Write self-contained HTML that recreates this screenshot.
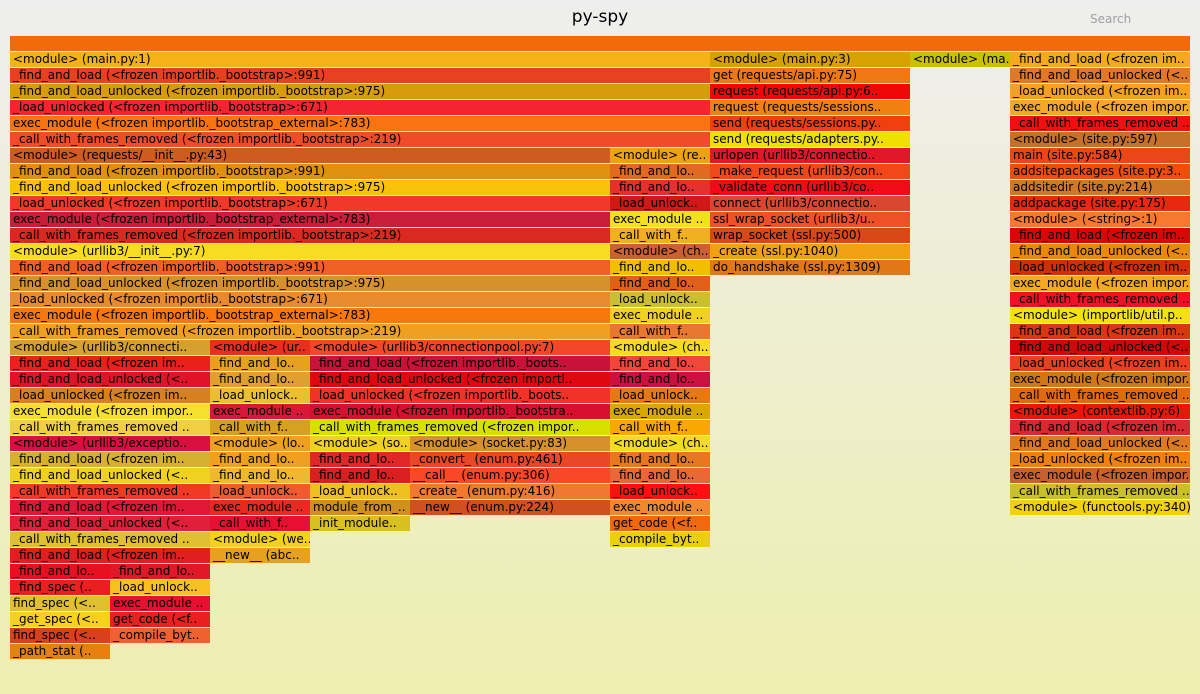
<!DOCTYPE html>
<html><head><meta charset="utf-8"><style>
html,body{margin:0;padding:0}
body{width:1200px;height:694px;overflow:hidden;position:relative;background:linear-gradient(#eeeeee 0%,#eeeeb0 100%);font-family:"DejaVu Sans","Liberation Sans",sans-serif}
#title{position:absolute;left:0;width:1200px;top:7px;text-align:center;font-size:17px;color:#000}
#search{position:absolute;left:1090px;top:12px;font-size:12px;color:#a0a0a0}
.f{position:absolute;height:15px;line-height:15px;font-size:12px;color:#000;white-space:nowrap;overflow:hidden;box-sizing:border-box;padding-left:3px;cursor:pointer}
</style></head><body>
<div id="title">py-spy</div>
<div id="search">Search</div>
<div id="graph"></div>
<script>
// frames: depth, start (sample units), width (sample units), color, label
const frameDepths=[], frameStarts=[], frameWidths=[], frameColors=[], frameLabels=[];
const rawFrames = [
[0,0,11.8,"#f06c0a",""],
[1,0,7,"#f5b01a","<module> (main.py:1)"],
[2,0,7,"#e5431e","_find_and_load (<frozen importlib._bootstrap>:991)"],
[3,0,7,"#d89b0c","_find_and_load_unlocked (<frozen importlib._bootstrap>:975)"],
[4,0,7,"#f52530","_load_unlocked (<frozen importlib._bootstrap>:671)"],
[5,0,7,"#f87410","exec_module (<frozen importlib._bootstrap_external>:783)"],
[6,0,7,"#ef4d2a","_call_with_frames_removed (<frozen importlib._bootstrap>:219)"],
[7,0,6,"#d05a20","<module> (requests/__init__.py:43)"],[7,6,1,"#f0a010","<module> (re.."],
[8,0,6,"#e08f0e","_find_and_load (<frozen importlib._bootstrap>:991)"],[8,6,1,"#e06a20","_find_and_lo.."],
[9,0,6,"#f9c00c","_find_and_load_unlocked (<frozen importlib._bootstrap>:975)"],[9,6,1,"#e53030","_find_and_lo.."],
[10,0,6,"#ef3a2a","_load_unlocked (<frozen importlib._bootstrap>:671)"],[10,6,1,"#d01818","_load_unlock.."],
[11,0,6,"#c81e3a","exec_module (<frozen importlib._bootstrap_external>:783)"],[11,6,1,"#f5e020","exec_module .."],
[12,0,6,"#d82a20","_call_with_frames_removed (<frozen importlib._bootstrap>:219)"],[12,6,1,"#f0b020","_call_with_f.."],
[13,0,6,"#f9dc22","<module> (urllib3/__init__.py:7)"],[13,6,1,"#cc6030","<module> (ch.."],
[14,0,6,"#f06020","_find_and_load (<frozen importlib._bootstrap>:991)"],[14,6,1,"#f0c000","_find_and_lo.."],
[15,0,6,"#d7902c","_find_and_load_unlocked (<frozen importlib._bootstrap>:975)"],[15,6,1,"#e06018","_find_and_lo.."],
[16,0,6,"#e88a30","_load_unlocked (<frozen importlib._bootstrap>:671)"],[16,6,1,"#c8c030","_load_unlock.."],
[17,0,6,"#f87810","exec_module (<frozen importlib._bootstrap_external>:783)"],[17,6,1,"#f0d020","exec_module .."],
[18,0,6,"#f0a020","_call_with_frames_removed (<frozen importlib._bootstrap>:219)"],[18,6,1,"#e87830","_call_with_f.."],
[19,0,2,"#d4a030","<module> (urllib3/connecti.."],[19,2,1,"#e83020","<module> (ur.."],[19,3,3,"#f04828","<module> (urllib3/connectionpool.py:7)"],[19,6,1,"#f5dc20","<module> (ch.."],
[20,0,2,"#e8201e","_find_and_load (<frozen im.."],[20,2,1,"#e8a020","_find_and_lo.."],[20,3,3,"#c81238","_find_and_load (<frozen importlib._boots.."],[20,6,1,"#f04838","_find_and_lo.."],
[21,0,2,"#e01428","_find_and_load_unlocked (<.."],[21,2,1,"#e0a030","_find_and_lo.."],[21,3,3,"#e00810","_find_and_load_unlocked (<frozen importl.."],[21,6,1,"#cc1040","_find_and_lo.."],
[22,0,2,"#d88020","_load_unlocked (<frozen im.."],[22,2,1,"#e8c030","_load_unlock.."],[22,3,3,"#f03228","_load_unlocked (<frozen importlib._boots.."],[22,6,1,"#e87812","_load_unlock.."],
[23,0,2,"#f5e030","exec_module (<frozen impor.."],[23,2,1,"#d81838","exec_module .."],[23,3,3,"#d81030","exec_module (<frozen importlib._bootstra.."],[23,6,1,"#d8a800","exec_module .."],
[24,0,2,"#f0d040","_call_with_frames_removed .."],[24,2,1,"#d8a020","_call_with_f.."],[24,3,3,"#d8e000","_call_with_frames_removed (<frozen impor.."],[24,6,1,"#f8a800","_call_with_f.."],
[25,0,2,"#d81040","<module> (urllib3/exceptio.."],[25,2,1,"#f0a020","<module> (lo.."],[25,3,1,"#f0d020","<module> (so.."],[25,4,2,"#d8902a","<module> (socket.py:83)"],[25,6,1,"#f0dc20","<module> (ch.."],
[26,0,2,"#d8b030","_find_and_load (<frozen im.."],[26,2,1,"#f0a020","_find_and_lo.."],[26,3,1,"#e02828","_find_and_lo.."],[26,4,2,"#e84828","_convert_ (enum.py:461)"],[26,6,1,"#e87820","_find_and_lo.."],
[27,0,2,"#f0d020","_find_and_load_unlocked (<.."],[27,2,1,"#f0b830","_find_and_lo.."],[27,3,1,"#d82020","_find_and_lo.."],[27,4,2,"#f84828","__call__ (enum.py:306)"],[27,6,1,"#e86838","_find_and_lo.."],
[28,0,2,"#f03a28","_call_with_frames_removed .."],[28,2,1,"#f05a30","_load_unlock.."],[28,3,1,"#f0c020","_load_unlock.."],[28,4,2,"#f07830","_create_ (enum.py:416)"],[28,6,1,"#ff1010","_load_unlock.."],
[29,0,2,"#e01838","_find_and_load (<frozen im.."],[29,2,1,"#e82a20","exec_module .."],[29,3,1,"#d09020","module_from_.."],[29,4,2,"#d05020","__new__ (enum.py:224)"],[29,6,1,"#f08830","exec_module .."],
[30,0,2,"#e02038","_find_and_load_unlocked (<.."],[30,2,1,"#e81030","_call_with_f.."],[30,3,1,"#d8c020","_init_module.."],[30,6,1,"#f06810","get_code (<f.."],
[31,0,2,"#e0c030","_call_with_frames_removed .."],[31,2,1,"#f5d020","<module> (we.."],[31,6,1,"#e8d010","_compile_byt.."],
[32,0,2,"#e02020","_find_and_load (<frozen im.."],[32,2,1,"#e8a020","__new__ (abc.."],
[33,0,1,"#e81020","_find_and_lo.."],[33,1,1,"#e01828","_find_and_lo.."],
[34,0,1,"#e82020","_find_spec (.."],[34,1,1,"#f8c020","_load_unlock.."],
[35,0,1,"#e0c030","find_spec (<.."],[35,1,1,"#e81030","exec_module .."],
[36,0,1,"#f8d020","_get_spec (<.."],[36,1,1,"#e82020","get_code (<f.."],
[37,0,1,"#d84020","find_spec (<.."],[37,1,1,"#f06030","_compile_byt.."],
[38,0,1,"#e88010","_path_stat (.."],
[1,7,2,"#d8a000","<module> (main.py:3)"],
[2,7,2,"#f07810","get (requests/api.py:75)"],
[3,7,2,"#f00808","request (requests/api.py:6.."],
[4,7,2,"#f08010","request (requests/sessions.."],
[5,7,2,"#f04010","send (requests/sessions.py.."],
[6,7,2,"#f0e000","send (requests/adapters.py.."],
[7,7,2,"#e01828","urlopen (urllib3/connectio.."],
[8,7,2,"#f04818","_make_request (urllib3/con.."],
[9,7,2,"#f00a1a","_validate_conn (urllib3/co.."],
[10,7,2,"#d84830","connect (urllib3/connectio.."],
[11,7,2,"#f05028","ssl_wrap_socket (urllib3/u.."],
[12,7,2,"#d84818","wrap_socket (ssl.py:500)"],
[13,7,2,"#f0a010","_create (ssl.py:1040)"],
[14,7,2,"#e07818","do_handshake (ssl.py:1309)"],
[1,9,1,"#c8c000","<module> (ma.."],
[1,10,1.8,"#f5a820","_find_and_load (<frozen im.."],
[2,10,1.8,"#e07828","_find_and_load_unlocked (<.."],
[3,10,1.8,"#f5a020","_load_unlocked (<frozen im.."],
[4,10,1.8,"#f5a828","exec_module (<frozen impor.."],
[5,10,1.8,"#f01010","_call_with_frames_removed .."],
[6,10,1.8,"#c87028","<module> (site.py:597)"],
[7,10,1.8,"#e84818","main (site.py:584)"],
[8,10,1.8,"#f04c0c","addsitepackages (site.py:3.."],
[9,10,1.8,"#d07828","addsitedir (site.py:214)"],
[10,10,1.8,"#e82810","addpackage (site.py:175)"],
[11,10,1.8,"#f87830","<module> (<string>:1)"],
[12,10,1.8,"#d80808","_find_and_load (<frozen im.."],
[13,10,1.8,"#ec8808","_find_and_load_unlocked (<.."],
[14,10,1.8,"#d03008","_load_unlocked (<frozen im.."],
[15,10,1.8,"#f5a820","exec_module (<frozen impor.."],
[16,10,1.8,"#f01028","_call_with_frames_removed .."],
[17,10,1.8,"#f5e010","<module> (importlib/util.p.."],
[18,10,1.8,"#d83810","_find_and_load (<frozen im.."],
[19,10,1.8,"#d00808","_find_and_load_unlocked (<.."],
[20,10,1.8,"#e84020","_load_unlocked (<frozen im.."],
[21,10,1.8,"#d07818","exec_module (<frozen impor.."],
[22,10,1.8,"#e06a10","_call_with_frames_removed .."],
[23,10,1.8,"#e81808","<module> (contextlib.py:6)"],
[24,10,1.8,"#d82830","_find_and_load (<frozen im.."],
[25,10,1.8,"#e07820","_find_and_load_unlocked (<.."],
[26,10,1.8,"#f08010","_load_unlocked (<frozen im.."],
[27,10,1.8,"#c86030","exec_module (<frozen impor.."],
[28,10,1.8,"#c8c028","_call_with_frames_removed .."],
[29,10,1.8,"#f0d010","<module> (functools.py:340)"]
];
rawFrames.forEach(r=>{frameDepths.push(r[0]);frameStarts.push(r[1]);frameWidths.push(r[2]);frameColors.push(r[3]);frameLabels.push(r[4]);});
const totalUnits=11.8;
const x0=10, plotW=1180, top0=36, rowH=16;
function xScale(v){return x0+v/totalUnits*plotW;}
function yScale(d){return top0+d*rowH;}
const g=document.getElementById('graph');
for(let i=0;i<frameDepths.length;i++){
  const el=document.createElement('div');
  el.className='f';
  const x=xScale(frameStarts[i]), w=xScale(frameStarts[i]+frameWidths[i])-x;
  el.style.left=x+'px';el.style.top=yScale(frameDepths[i])+'px';el.style.width=w+'px';
  el.style.background=frameColors[i];
  el.textContent=frameLabels[i];
  
  
  g.appendChild(el);
}
</script>
</body></html>
